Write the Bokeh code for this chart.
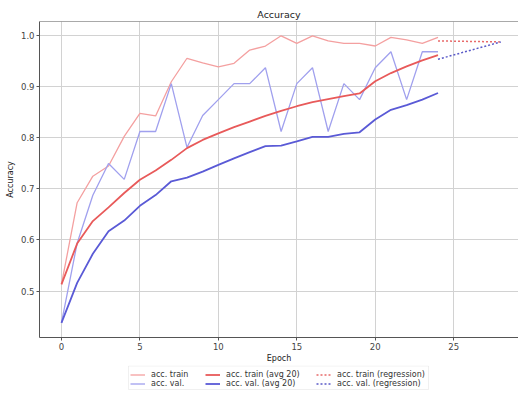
from bokeh.plotting import figure
from bokeh.layouts import column
from bokeh.models import (Legend, LegendItem, FixedTicker, PrintfTickFormatter,
                          Span, Range1d, BoxAnnotation)
from bokeh.embed import file_html
from bokeh.resources import INLINE

# ---- data ----
epochs = list(range(25))
acc_train = [0.513, 0.673, 0.725, 0.745, 0.803, 0.848, 0.843, 0.910, 0.956, 0.947,
             0.939, 0.946, 0.972, 0.980, 1.000, 0.985, 1.000, 0.990, 0.985, 0.985,
             0.980, 0.997, 0.992, 0.985, 0.997]
acc_val = [0.4375, 0.59375, 0.6875, 0.75, 0.71875, 0.8125, 0.8125, 0.90625, 0.78125, 0.84375,
           0.875, 0.90625, 0.90625, 0.9375, 0.8125, 0.90625, 0.9375, 0.8125, 0.90625, 0.875,
           0.9375, 0.96875, 0.875, 0.96875, 0.96875]
acc_train_avg = [0.513, 0.593, 0.637, 0.664, 0.692, 0.718, 0.736, 0.757, 0.780, 0.796,
                 0.809, 0.821, 0.832, 0.843, 0.853, 0.862, 0.870, 0.876, 0.882, 0.887,
                 0.911, 0.927, 0.940, 0.952, 0.962]
acc_val_avg = [0.4375, 0.516, 0.573, 0.617, 0.638, 0.667, 0.688, 0.715, 0.722, 0.734,
               0.747, 0.760, 0.772, 0.784, 0.785, 0.793, 0.802, 0.802, 0.808, 0.811,
               0.836, 0.855, 0.864, 0.875, 0.888]
reg_epochs = [24, 28]
reg_train = [0.990, 0.988]
reg_val = [0.954, 0.988]
x_ticks = [0, 5, 10, 15, 20, 25]
y_ticks = [0.5, 0.6, 0.7, 0.8, 0.9, 1.0]
series_labels = ["acc. train", "acc. val.", "acc. train (avg 20)",
                 "acc. val. (avg 20)", "acc. train (regression)", "acc. val. (regression)"]

FONT = "DejaVu Sans"
AX = "#555555"
styles = [
    dict(line_color="#f4a0a0", line_width=1.3),
    dict(line_color="#a0a0ee", line_width=1.3),
    dict(line_color="#e85a5a", line_width=1.8),
    dict(line_color="#5a5ad6", line_width=1.8),
    dict(line_color="#e86a6a", line_width=1.5, line_dash="2 2"),
    dict(line_color="#5a5ac8", line_width=1.5, line_dash="2 2"),
]
series = [(epochs, acc_train), (epochs, acc_val), (epochs, acc_train_avg),
          (epochs, acc_val_avg), (reg_epochs, reg_train), (reg_epochs, reg_val)]

p = figure(width=518, height=365, output_backend="svg", toolbar_location=None,
           x_range=Range1d(-1.4, 29.13), y_range=Range1d(0.409, 1.028),
           title="Accuracy", min_border_left=39, min_border_right=0,
           min_border_top=21, min_border_bottom=0)

p.background_fill_color = "white"
p.border_fill_color = "white"
p.outline_line_color = None
p.add_layout(Span(location=1.028, dimension="width", line_color=AX, line_width=1))

p.title.align = "center"
p.title.text_font = FONT
p.title.text_font_size = "9.5px"
p.title.text_font_style = "normal"
p.title.text_color = "#222222"
p.title.standoff = 4

for ax in (p.xaxis[0], p.yaxis[0]):
    ax.axis_line_color = AX
    ax.major_tick_line_color = AX
    ax.minor_tick_line_color = None
    ax.major_tick_out = 3
    ax.major_tick_in = 0
    ax.major_label_text_font = FONT
    ax.major_label_text_font_size = "8.5px"
    ax.major_label_text_color = "#444444"
    ax.major_label_standoff = 2
    ax.axis_label_text_font = FONT
    ax.axis_label_text_font_size = "8px"
    ax.axis_label_text_font_style = "normal"
    ax.axis_label_text_color = "#222222"
p.xaxis.axis_label_standoff = 1
p.yaxis.axis_label_standoff = 3

p.xaxis.ticker = FixedTicker(ticks=x_ticks)
p.xaxis.formatter = PrintfTickFormatter(format="%d")
p.yaxis.ticker = FixedTicker(ticks=y_ticks)
p.yaxis.formatter = PrintfTickFormatter(format="%.1f")
p.xaxis.axis_label = "Epoch"
p.yaxis.axis_label = "Accuracy"
p.xgrid.ticker = FixedTicker(ticks=x_ticks)
p.ygrid.ticker = FixedTicker(ticks=y_ticks)
p.grid.grid_line_color = "#d2d2d2"
p.grid.grid_line_width = 1

for (xs, ys), st in zip(series, styles):
    p.line(xs, ys, **st)

# ---- legend strip below the chart (pixel-like data space) ----
q = figure(width=518, height=29, output_backend="svg", toolbar_location=None,
           x_range=Range1d(39, 518), y_range=Range1d(0, 29),
           x_axis_location=None, y_axis_location=None,
           min_border_left=39, min_border_right=0, min_border_top=0, min_border_bottom=0)
q.outline_line_color = None
q.grid.visible = False
q.background_fill_color = "white"
q.border_fill_color = "white"
q.add_layout(BoxAnnotation(left=128, right=428, bottom=5, top=28.5,
                           fill_alpha=0, line_color="#cccccc", line_width=1))

renderers = []
for (xs, ys), st in zip(series, styles):
    renderers.append(q.line(xs, ys, **st))   # outside the strip's range; only the key shows

col_x = [91, 166, 277]
for c in range(3):
    items = [LegendItem(label=series_labels[2 * c + k], renderers=[renderers[2 * c + k]])
             for k in range(2)]
    lg = Legend(items=items, orientation="vertical", location=(col_x[c], 6))
    lg.label_text_font = FONT
    lg.label_text_font_size = "8px"
    lg.label_text_color = "#333333"
    lg.label_height = 9
    lg.glyph_height = 9
    lg.glyph_width = 15
    lg.label_standoff = 6
    lg.spacing = 0
    lg.padding = 2
    lg.margin = 0
    lg.border_line_color = None
    lg.background_fill_alpha = 0
    q.add_layout(lg, "center")

layout = column(p, q, spacing=0)
open("out.html", "w").write(file_html(layout, INLINE))
